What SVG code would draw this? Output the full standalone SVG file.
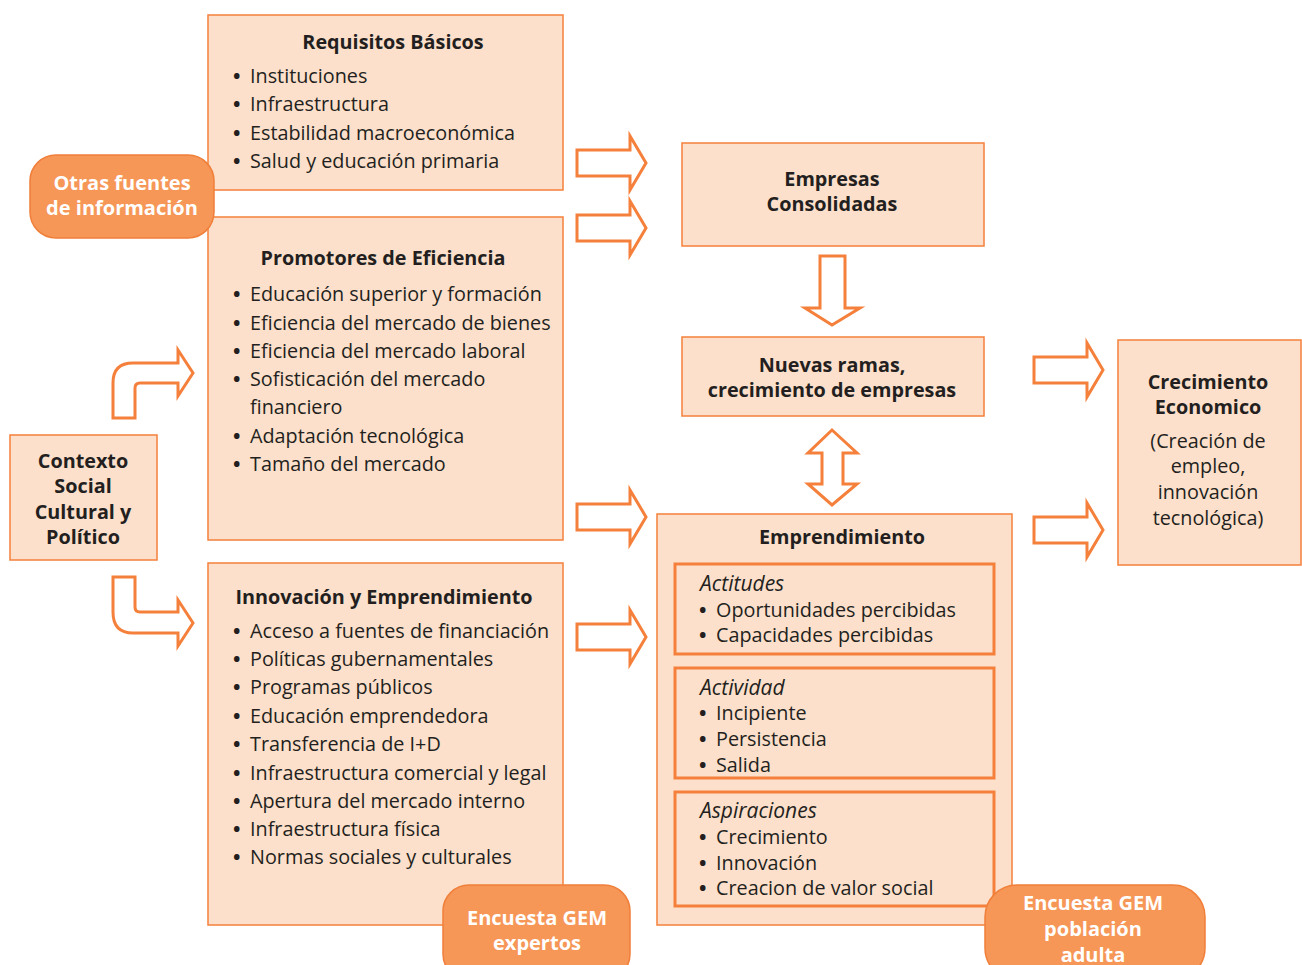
<svg xmlns="http://www.w3.org/2000/svg" width="1302" height="965" viewBox="0 0 1302 965">
<style>
.box{fill:#FCE0CB;stroke:#F5803B;stroke-width:1.5}
.inner{fill:#FCE0CB;stroke:#F5803B;stroke-width:3}
.badge{fill:#F69657;stroke:#F07F3A;stroke-width:1.5}
.arr{fill:#ffffff;stroke:#F5803B;stroke-width:3;stroke-linejoin:miter}
text{font-family:"Open Sans","Noto Sans",sans-serif;font-size:19.8px;fill:#231F20}
.bu{font-weight:bold}
.b{font-weight:bold}
.c{text-anchor:middle}
.w{fill:#ffffff;font-weight:bold;font-size:20px}
.i{font-style:italic;font-size:21px}
</style>
<rect width="1302" height="965" fill="#ffffff"/>
<g id="connectors">
<path class="arr" d="M577,150 H630 V136 L646,163 L630,190 V176 H577 Z"/>
<path class="arr" d="M577,215 H630 V201 L646,228 L630,255 V241 H577 Z"/>
<path class="arr" d="M577,504 H630 V490 L646,517 L630,544 V530 H577 Z"/>
<path class="arr" d="M577,624 H630 V610 L646,637 L630,664 V650 H577 Z"/>
<path class="arr" d="M1034,357 H1087 V343 L1103,370 L1087,397 V383 H1034 Z"/>
<path class="arr" d="M1034,517 H1087 V503 L1103,530 L1087,557 V543 H1034 Z"/>
<path class="arr" d="M820,256 H845 V308 H860 L832,325 L805,308 H820 Z"/>
<path class="arr" d="M832,430 L857,453 H843 V484 H857 L832,505 L808,484 H822 V453 H808 Z"/>
<path class="arr" d="M113,418 V383 Q113,363 133,363 H178 V350 L193,373 L178,396 V383 H140 Q135,383 135,388 V418 Z"/>
<path class="arr" d="M113,577 V612 Q113,633 133,633 H178 V646 L193,623 L178,600 V612 H140 Q135,612 135,607 V577 Z"/>
</g>
<g id="requisitos">
<rect class="box" x="208" y="15" width="355" height="175"/>
<text class="b c" x="393" y="49">Requisitos Básicos</text>
<text x="233" y="83"><tspan class="bu">•</tspan><tspan x="250">Instituciones</tspan></text>
<text x="233" y="111"><tspan class="bu">•</tspan><tspan x="250">Infraestructura</tspan></text>
<text x="233" y="140"><tspan class="bu">•</tspan><tspan x="250">Estabilidad macroeconómica</tspan></text>
<text x="233" y="168"><tspan class="bu">•</tspan><tspan x="250">Salud y educación primaria</tspan></text>
</g>
<g id="promotores">
<rect class="box" x="208" y="217" width="355" height="323"/>
<text class="b c" x="383" y="265">Promotores de Eficiencia</text>
<text x="233" y="301"><tspan class="bu">•</tspan><tspan x="250">Educación superior y formación</tspan></text>
<text x="233" y="330"><tspan class="bu">•</tspan><tspan x="250">Eficiencia del mercado de bienes</tspan></text>
<text x="233" y="358"><tspan class="bu">•</tspan><tspan x="250">Eficiencia del mercado laboral</tspan></text>
<text x="233" y="386"><tspan class="bu">•</tspan><tspan x="250">Sofisticación del mercado</tspan></text>
<text x="250" y="414">financiero</text>
<text x="233" y="443"><tspan class="bu">•</tspan><tspan x="250">Adaptación tecnológica</tspan></text>
<text x="233" y="471"><tspan class="bu">•</tspan><tspan x="250">Tamaño del mercado</tspan></text>
</g>
<g id="innovacion">
<rect class="box" x="208" y="563" width="355" height="362"/>
<text class="b c" x="384" y="604">Innovación y Emprendimiento</text>
<text x="233" y="638"><tspan class="bu">•</tspan><tspan x="250">Acceso a fuentes de financiación</tspan></text>
<text x="233" y="666"><tspan class="bu">•</tspan><tspan x="250">Políticas gubernamentales</tspan></text>
<text x="233" y="694"><tspan class="bu">•</tspan><tspan x="250">Programas públicos</tspan></text>
<text x="233" y="723"><tspan class="bu">•</tspan><tspan x="250">Educación emprendedora</tspan></text>
<text x="233" y="751"><tspan class="bu">•</tspan><tspan x="250">Transferencia de I+D</tspan></text>
<text x="233" y="780"><tspan class="bu">•</tspan><tspan x="250">Infraestructura comercial y legal</tspan></text>
<text x="233" y="808"><tspan class="bu">•</tspan><tspan x="250">Apertura del mercado interno</tspan></text>
<text x="233" y="836"><tspan class="bu">•</tspan><tspan x="250">Infraestructura física</tspan></text>
<text x="233" y="864"><tspan class="bu">•</tspan><tspan x="250">Normas sociales y culturales</tspan></text>
</g>
<g id="otras">
<rect class="badge" x="30" y="155" width="184" height="83" rx="26"/>
<text class="w c" x="122" y="190">Otras fuentes</text>
<text class="w c" x="122" y="215">de información</text>
</g>
<g id="contexto">
<rect class="box" x="10" y="435" width="147" height="125"/>
<text class="b c" x="83" y="468">Contexto</text>
<text class="b c" x="83" y="493">Social</text>
<text class="b c" x="83" y="519">Cultural y</text>
<text class="b c" x="83" y="544">Político</text>
</g>
<g id="empresas">
<rect class="box" x="682" y="143" width="302" height="103"/>
<text class="b c" x="832" y="186">Empresas</text>
<text class="b c" x="832" y="211">Consolidadas</text>
</g>
<g id="nuevas">
<rect class="box" x="682" y="337" width="302" height="79"/>
<text class="b c" x="832" y="372">Nuevas ramas,</text>
<text class="b c" x="832" y="397">crecimiento de empresas</text>
</g>
<g id="crecimiento">
<rect class="box" x="1118" y="340" width="183" height="225"/>
<text class="b c" x="1208" y="389">Crecimiento</text>
<text class="b c" x="1208" y="414">Economico</text>
<text class="c" x="1208" y="448">(Creación de</text>
<text class="c" x="1208" y="473">empleo,</text>
<text class="c" x="1208" y="499">innovación</text>
<text class="c" x="1208" y="525">tecnológica)</text>
</g>
<g id="emprendimiento">
<rect class="box" x="657" y="514" width="355" height="411"/>
<text class="b c" x="842" y="544">Emprendimiento</text>
<rect class="inner" x="675" y="564" width="319" height="90"/>
<text class="i" x="700" y="591">Actitudes</text>
<text x="699" y="617"><tspan class="bu">•</tspan><tspan x="716">Oportunidades percibidas</tspan></text>
<text x="699" y="642"><tspan class="bu">•</tspan><tspan x="716">Capacidades percibidas</tspan></text>
<rect class="inner" x="675" y="668" width="319" height="110"/>
<text class="i" x="700" y="695">Actividad</text>
<text x="699" y="720"><tspan class="bu">•</tspan><tspan x="716">Incipiente</tspan></text>
<text x="699" y="746"><tspan class="bu">•</tspan><tspan x="716">Persistencia</tspan></text>
<text x="699" y="772"><tspan class="bu">•</tspan><tspan x="716">Salida</tspan></text>
<rect class="inner" x="675" y="792" width="319" height="114"/>
<text class="i" x="700" y="818">Aspiraciones</text>
<text x="699" y="844"><tspan class="bu">•</tspan><tspan x="716">Crecimiento</tspan></text>
<text x="699" y="870"><tspan class="bu">•</tspan><tspan x="716">Innovación</tspan></text>
<text x="699" y="895"><tspan class="bu">•</tspan><tspan x="716">Creacion de valor social</tspan></text>
</g>
<g id="expertos">
<rect class="badge" x="443" y="885" width="187" height="95" rx="26"/>
<text class="w c" x="537" y="925">Encuesta GEM</text>
<text class="w c" x="537" y="950">expertos</text>
</g>
<g id="poblacion">
<rect class="badge" x="985" y="885" width="220" height="95" rx="32"/>
<text class="w c" x="1093" y="910">Encuesta GEM</text>
<text class="w c" x="1093" y="936">población</text>
<text class="w c" x="1093" y="962">adulta</text>
</g>
</svg>
